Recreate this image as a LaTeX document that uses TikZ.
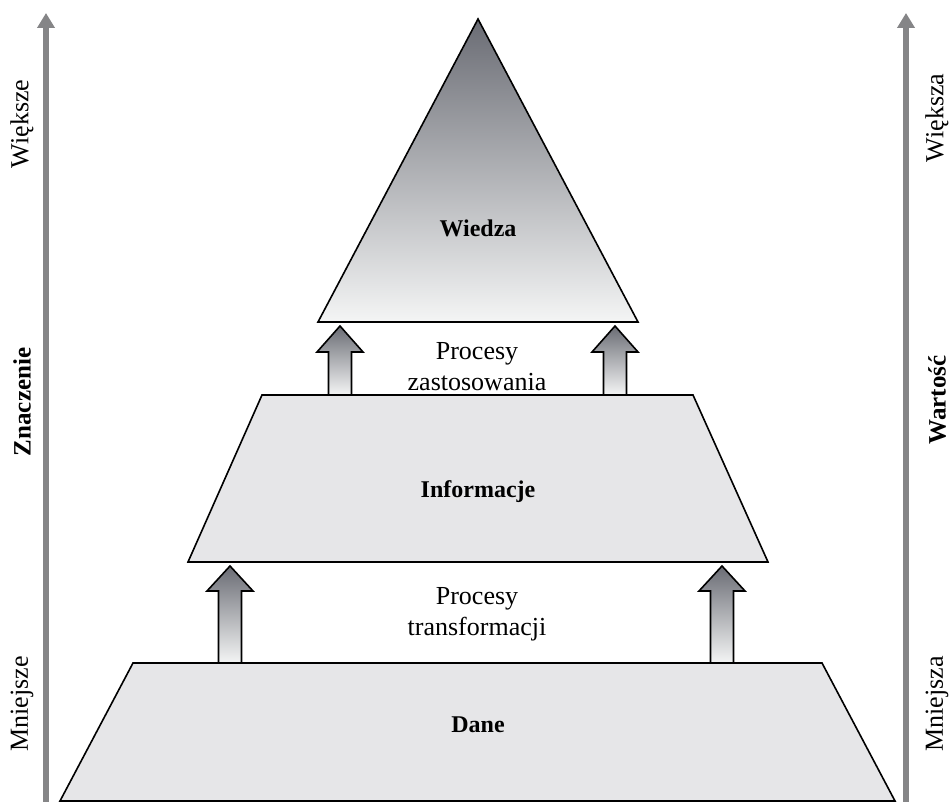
\documentclass[tikz,border=0pt]{standalone}
\usepackage{fontspec}
\setmainfont{Liberation Serif}
\usetikzlibrary{arrows.meta}
\definecolor{axisgray}{HTML}{858587}
\definecolor{layerfill}{HTML}{E6E6E8}
\definecolor{darkgrad}{HTML}{6A6C74}
\definecolor{lightgrad}{HTML}{F4F5F5}
\begin{document}
\begin{tikzpicture}[x=1pt,y=-1pt,
  axisline/.style={draw=axisgray, line width=6pt, -{Triangle[length=15pt,width=17pt]}},
  layer/.style={draw=black, line width=1.6pt, fill=layerfill, line join=miter},
  gradshape/.style={draw=black, line width=1.6pt, top color=darkgrad, bottom color=lightgrad, line join=miter},
  proc/.style={font=\fontsize{26}{31}\selectfont, align=center, inner sep=0pt},
  title/.style={font=\fontsize{24}{28}\selectfont\bfseries, inner sep=0pt},
  side/.style={font=\fontsize{26}{30}\selectfont, rotate=90, inner sep=0pt},
  sidebold/.style={font=\fontsize{25}{30}\selectfont\bfseries, rotate=90, inner sep=0pt}]
\useasboundingbox (0,0) rectangle (952,802);

% axes
\coordinate (lb) at (46,802); \coordinate (lt) at (46,13);
\coordinate (rb) at (906,802); \coordinate (rt) at (906,13);
\draw[axisline] (lb) -- (lt);
\draw[axisline] (rb) -- (rt);

% layers
\path[layer] (133,663) -- (822,663) -- (895,801) -- (60,801) -- cycle;
\path[layer] (262,395) -- (693,395) -- (768,562) -- (188,562) -- cycle;
\path[gradshape] (478,19) -- (638,322) -- (318,322) -- cycle;

% block arrows: center x, tip y, head base y, bottom y
\foreach \c/\t/\h/\b in {340/326/352/395, 615/326/352/395, 230/566/591/663, 722/566/591/663}{
  \path[gradshape] (\c-11.5,\b) -- (\c-11.5,\h) -- (\c-23,\h) -- (\c,\t) -- (\c+23,\h)
     -- (\c+11.5,\h) -- (\c+11.5,\b) -- cycle;
}
% redraw layer top edges over arrow bottoms
\draw[line width=1.6pt] (262,395) -- (693,395);
\draw[line width=1.6pt] (133,663) -- (822,663);

% labels
\node[title] (wiedza) at (478,228) {Wiedza};
\node[title] (info) at (478,492) {Informacje};
\node[title] (dane) at (478,725) {Dane};
\node[proc] (pz) at (477,367) {Procesy\\zastosowania};
\node[proc] (pt) at (477,614) {Procesy\\transformacji};

\node[side] (wl) at (22,124) {Większe};
\node[sidebold] (zn) at (22,402) {Znaczenie};
\node[side] (ml) at (22,704) {Mniejsze};
\node[side] (wr) at (937,118) {Większa};
\node[sidebold] (wa) at (937,400) {Wartość};
\node[side] (mr) at (937,704) {Mniejsza};
\end{tikzpicture}
\end{document}
